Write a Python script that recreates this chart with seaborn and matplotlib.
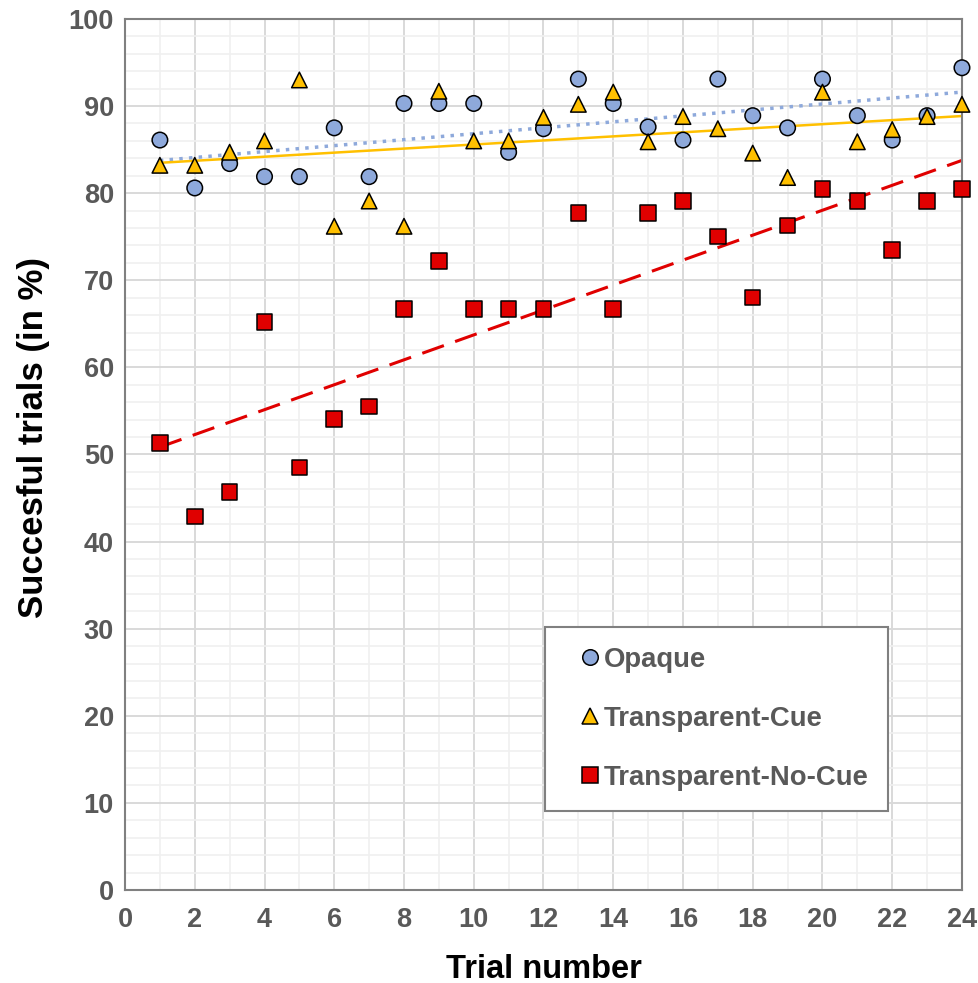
import matplotlib
matplotlib.use("Agg")
import matplotlib.pyplot as plt
import seaborn as sns
import pandas as pd
import numpy as np
from matplotlib.ticker import MultipleLocator

sns.set_style("white")
plt.rcParams["font.family"] = ["Liberation Sans", "DejaVu Sans"]

# data
trials = list(range(1, 25))
opaque = [86.1, 80.6, 83.4, 81.9, 81.9, 87.5, 81.9, 90.3, 90.3, 90.3, 84.7, 87.4,
          93.1, 90.3, 87.6, 86.1, 93.1, 88.9, 87.5, 93.1, 88.9, 86.1, 88.9, 94.4]
transparent_cue = [83.2, 83.2, 84.7, 86.0, 93.0, 76.2, 79.1, 76.2, 91.7, 86.0, 86.0, 88.7,
                   90.2, 91.6, 85.9, 88.8, 87.4, 84.6, 81.8, 91.6, 85.9, 87.3, 88.8, 90.2]
transparent_no_cue = [51.3, 42.9, 45.7, 65.2, 48.5, 54.1, 55.5, 66.7, 72.2, 66.7, 66.7, 66.7,
                      77.7, 66.7, 77.7, 79.1, 75.0, 68.0, 76.3, 80.5, 79.1, 73.5, 79.1, 80.5]

series = ["Opaque", "Transparent-Cue", "Transparent-No-Cue"]
colors = {"Opaque": "#8EA9DB", "Transparent-Cue": "#FFC000", "Transparent-No-Cue": "#E00000"}
markers = {"Opaque": "o", "Transparent-Cue": "^", "Transparent-No-Cue": "s"}

df = pd.DataFrame({
    "trial": trials * 3,
    "value": opaque + transparent_cue + transparent_no_cue,
    "condition": [s for s in series for _ in trials],
})

fig = plt.figure(figsize=(9.79, 9.83), dpi=100)
ax = fig.add_axes([0.1277, 0.0946, 0.8549, 0.8861])

# trendlines (linear fits)
line_styles = {
    "Opaque": dict(color="#8EA9DB", lw=2.5, linestyle=(0, (1.0, 1.8)), dash_capstyle="butt"),
    "Transparent-Cue": dict(color="#FFC000", lw=1.8, linestyle="-"),
    "Transparent-No-Cue": dict(color="#E00000", lw=2.2, linestyle=(0, (7.5, 3.9))),
}
for s in series:
    sub = df[df["condition"] == s]
    sns.regplot(data=sub, x="trial", y="value", scatter=False, ci=None, truncate=True,
                ax=ax, line_kws=line_styles[s])

sns.scatterplot(data=df, x="trial", y="value", hue="condition", style="condition",
                palette=colors, markers=markers, s=125, edgecolor="black", linewidth=1.1,
                ax=ax, zorder=3)
ax.collections[-1].set_clip_on(False)

ax.set_xlim(0, 24)
ax.set_ylim(0, 100)
ax.xaxis.set_major_locator(MultipleLocator(2))
ax.xaxis.set_minor_locator(MultipleLocator(1))
ax.yaxis.set_major_locator(MultipleLocator(10))
ax.yaxis.set_minor_locator(MultipleLocator(2))
ax.grid(which="major", color="#D9D9D9", lw=1.4)
ax.grid(which="minor", color="#F0F0F0", lw=1.2)
ax.set_axisbelow(True)
for sp in ax.spines.values():
    sp.set_color("#808080")
    sp.set_linewidth(1.5)

ax.tick_params(which="both", length=0)
ax.tick_params(axis="x", pad=12)
ax.tick_params(axis="y", pad=8)
for lab in ax.get_xticklabels() + ax.get_yticklabels():
    lab.set_fontsize(19.5)
    lab.set_fontweight("bold")
    lab.set_color("#595959")

ax.set_xlabel("Trial number", fontsize=23.5, fontweight="bold", color="black", va="top")
ax.set_ylabel("Succesful trials (in %)", fontsize=25, fontweight="bold", color="black")
ax.xaxis.set_label_coords(0.5, -0.073)
ax.yaxis.set_label_coords(-0.09, 0.52)

leg = ax.legend(loc="upper left", bbox_to_anchor=(0.502, 0.302), borderaxespad=0,
                fancybox=False, framealpha=1, edgecolor="#808080", markerscale=1.0,
                prop={"size": 19.8, "weight": "bold"}, labelspacing=1.2,
                handletextpad=-0.45, borderpad=0.72, handlelength=1.85, title=None)
leg.get_frame().set_linewidth(1.5)
for t in leg.get_texts():
    t.set_color("#595959")

fig.savefig("out.png", dpi=100)
